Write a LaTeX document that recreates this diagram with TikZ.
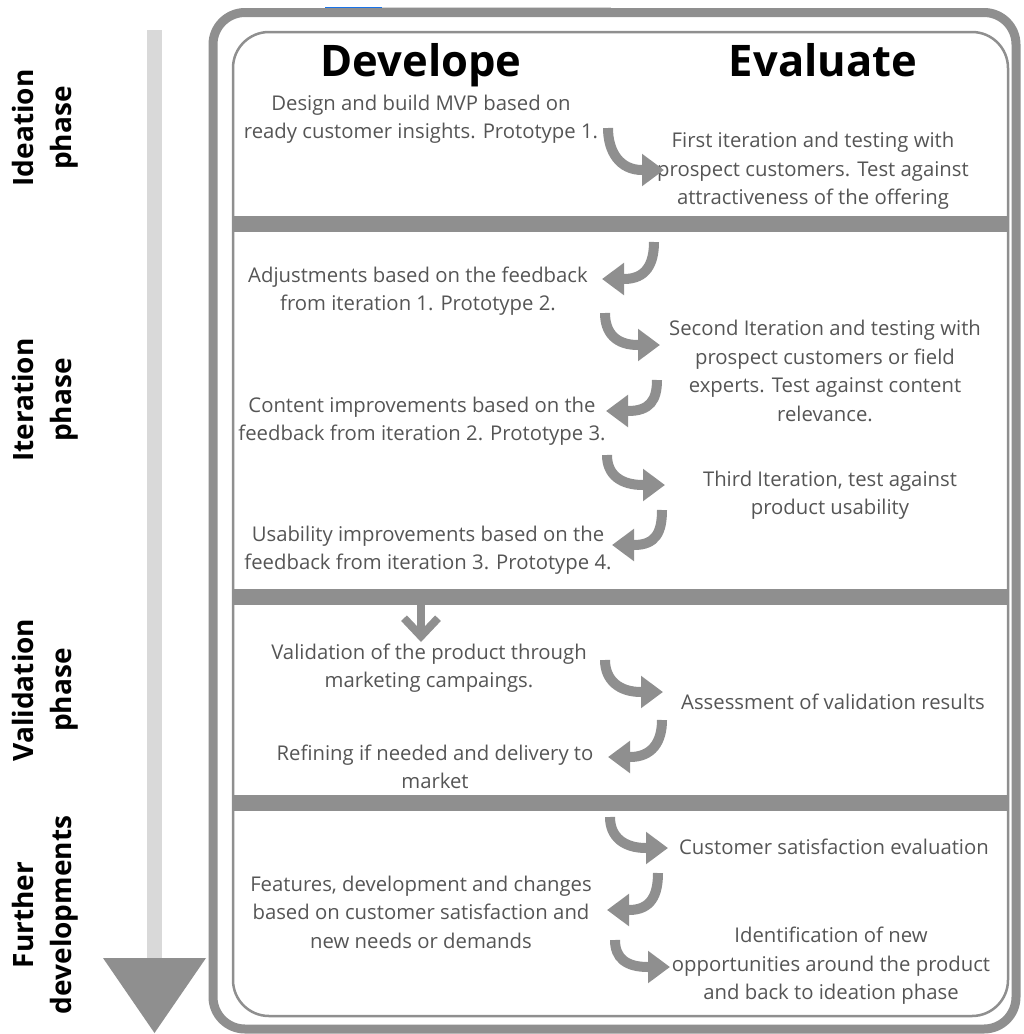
\documentclass[tikz,border=0pt]{standalone}
\usepackage{fontspec}
\setmainfont{Open Sans}
\usetikzlibrary{arrows.meta}
\definecolor{framegray}{HTML}{8F8F8F}
\definecolor{barlight}{HTML}{D9D9D9}
\definecolor{bodytext}{HTML}{555555}
\definecolor{selblue}{HTML}{1A73E8}
\definecolor{selgray}{HTML}{D4D4D4}

\begin{document}
\begin{tikzpicture}[x=1pt,y=-1pt,
  body/.style={align=center, text=bodytext, font=\fontsize{20.3}{28.5}\selectfont, inner sep=0pt},
  colhead/.style={anchor=base, text=black, font=\fontsize{43.5}{50}\selectfont\bfseries, inner sep=0pt},
  phaselabel/.style={rotate=90, align=center, text=black, font=\fontsize{28}{38}\selectfont\bfseries, inner sep=0pt},
  flow/.style={draw=framegray, line width=10pt, -{Triangle[width=31pt,length=22pt]}},
  band/.style={fill=framegray, draw=none}]

\useasboundingbox (0,0) rectangle (1024,1034);

% timeline arrow on the left
\fill[barlight] (147,30) rectangle (162,958);
\fill[framegray] (103,958) -- (206,958) -- (154.5,1033) -- cycle;

% outer and inner frames
\draw[selgray, line width=1.5pt] (382,8) -- (611,8);
\draw[framegray, line width=9pt, rounded corners=32pt] (213,12.5) rectangle (1016,1029);
\draw[selblue, line width=1.5pt] (325,7.5) -- (382,7.5);
\draw[framegray, line width=2.5pt, rounded corners=36pt] (233,32) rectangle (1008,1016);

% phase separators
\fill[band] (233,216) rectangle (1008,232);
\fill[band] (233,589) rectangle (1008,605);
\fill[band] (233,795) rectangle (1008,811);

% phase labels
\node[phaselabel] (pideation) at (45,128) {Ideation\\phase};
\node[phaselabel] (piteration) at (45,400) {Iteration\\phase};
\node[phaselabel] (pvalidation) at (45,690) {Validation\\phase};
\node[phaselabel] (pfurther) at (45,915) {Further\\developments};

% column headings
\node[colhead] (hdev) at (421,76) {Develope};
\node[colhead] (heval) at (823,76) {Evaluate};

% develop column
\node[body] (d1) at (421,119) {Design and build MVP based on\\ready customer insights. Prototype 1.};
\node[body] (d2) at (418,291) {Adjustments based on the feedback\\from iteration 1. Prototype 2.};
\node[body] (d3) at (422,421) {Content improvements based on the\\feedback from iteration 2. Prototype 3.};
\node[body] (d4) at (428,550) {Usability improvements based on the\\feedback from iteration 3. Prototype 4.};
\node[body] (d5) at (429,668) {Validation of the product through\\marketing campaings.};
\node[body] (d6) at (435,767) {Refining if needed and delivery to\\market};
\node[body] (d7) at (421,912) {Features, development and changes\\based on customer satisfaction and\\new needs or demands};

% evaluate column
\node[body] (e1) at (813,171) {First iteration and testing with\\prospect customers. Test against\\attractiveness of the offering};
\node[body] (e2) at (825,371) {Second Iteration and testing with\\prospect customers or field\\experts. Test against content\\relevance.};
\node[body] (e3) at (830,495) {Third Iteration, test against\\product usability};
\node[body] (e5) at (833,702) {Assessment of validation results};
\node[body] (e6) at (834,847) {Customer satisfaction evaluation};
\node[body] (e7) at (831,966) {Identification of new\\opportunities around the product\\and back to ideation phase};

% arrow end points
\coordinate (r1s) at (608,128); \coordinate (r1t) at (664,170);
\coordinate (l2s) at (654,242); \coordinate (l2t) at (602,279);
\coordinate (r3s) at (605,313); \coordinate (r3t) at (660,345);
\coordinate (l4s) at (657,380); \coordinate (l4t) at (606,411);
\coordinate (r5s) at (607,455); \coordinate (r5t) at (665,485);
\coordinate (l6s) at (662,510); \coordinate (l6t) at (612,545);
\coordinate (dvs) at (421,605); \coordinate (dvt) at (421,642);
\coordinate (r8s) at (605,660); \coordinate (r8t) at (663,692);
\coordinate (l9s) at (662,720); \coordinate (l9t) at (608,757);
\coordinate (r10s) at (610,817); \coordinate (r10t) at (668,848);
\coordinate (l11s) at (658,873); \coordinate (l11t) at (607,910);
\coordinate (r12s) at (615,940); \coordinate (r12t) at (670,967);

% curved hand-over arrows
\draw[flow] (r1s) .. controls +(0,24) and +(-22,0) .. ([xshift=-22pt]r1t) -- (r1t);
\draw[flow] (l2s) .. controls +(0,22) and +(22,0) .. ([xshift=22pt]l2t) -- (l2t);
\draw[flow] (r3s) .. controls +(0,20) and +(-22,0) .. ([xshift=-22pt]r3t) -- (r3t);
\draw[flow] (l4s) .. controls +(0,20) and +(22,0) .. ([xshift=22pt]l4t) -- (l4t);
\draw[flow] (r5s) .. controls +(0,20) and +(-22,0) .. ([xshift=-22pt]r5t) -- (r5t);
\draw[flow] (l6s) .. controls +(0,22) and +(22,0) .. ([xshift=22pt]l6t) -- (l6t);
\draw[draw=framegray, line width=8pt, -{Straight Barb[width=34pt,length=18pt]}] (dvs) -- (dvt);
\draw[flow] (r8s) .. controls +(0,20) and +(-22,0) .. ([xshift=-22pt]r8t) -- (r8t);
\draw[flow] (l9s) .. controls +(0,22) and +(22,0) .. ([xshift=22pt]l9t) -- (l9t);
\draw[flow] (r10s) .. controls +(0,20) and +(-22,0) .. ([xshift=-22pt]r10t) -- (r10t);
\draw[flow] (l11s) .. controls +(0,22) and +(22,0) .. ([xshift=22pt]l11t) -- (l11t);
\draw[flow] (r12s) .. controls +(0,18) and +(-22,0) .. ([xshift=-22pt]r12t) -- (r12t);

\end{tikzpicture}
\end{document}
